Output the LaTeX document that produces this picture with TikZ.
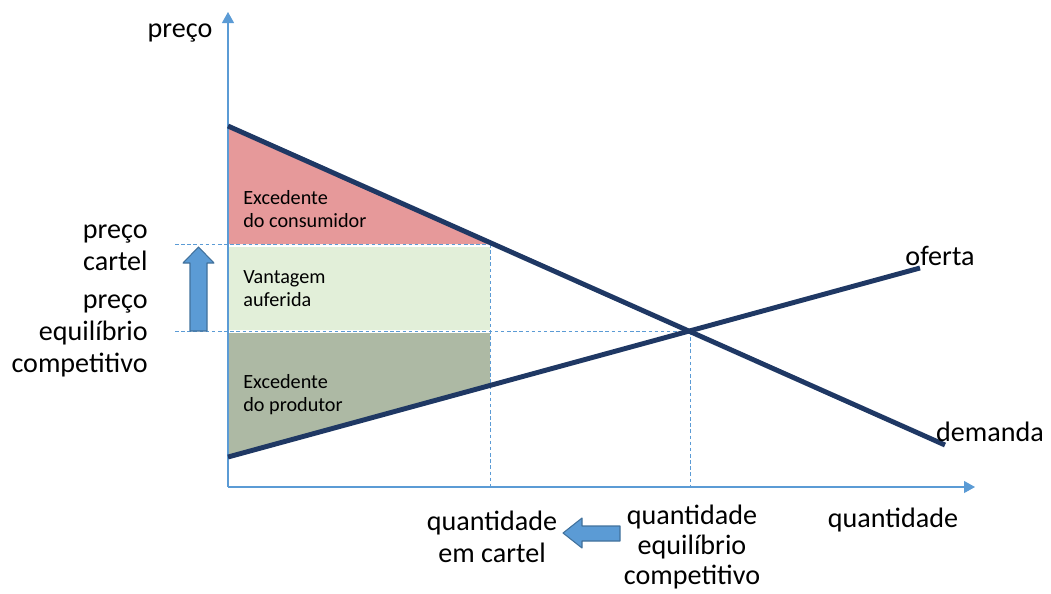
\documentclass[tikz,border=0pt]{standalone}
\usepackage{fontspec}
\setmainfont{Carlito}
\usepackage{xcolor}
\usepackage{tikz}
\usetikzlibrary{arrows.meta,positioning,calc}
\definecolor{axisblue}{HTML}{5B9BD5}
\definecolor{arrowedge}{HTML}{41719C}
\definecolor{curvenavy}{HTML}{1F3864}
\definecolor{consred}{HTML}{E6999A}
\definecolor{gainsgreen}{HTML}{E2EFD9}
\definecolor{prodgray}{HTML}{ADB9A4}
\tikzset{
    every picture/.style={line join=round},
    axisline/.style={draw=axisblue,line width=0.6pt,
      -{Triangle[length=2.2mm,width=2.4mm]}},
    guideline/.style={draw=axisblue,line width=0.5pt,dash pattern=on 2pt off 1.5pt},
    curveline/.style={draw=curvenavy,line width=2.8pt},
    blockarrow/.style={fill=axisblue,draw=arrowedge,line width=0.6pt},
    biglabel/.style={font=\fontsize{16}{18}\selectfont,inner sep=0pt,align=center},
    arealabel/.style={font=\fontsize{11.5}{13}\selectfont,inner sep=0pt,align=left,anchor=west}
}
\begin{document}
\begin{tikzpicture}[x=0.02cm,y=-0.02cm]
  \useasboundingbox (0,0) rectangle (1051,593);
  % reference points
  \coordinate (O) at (228,487);
  \coordinate (ytop) at (228,12);
  \coordinate (xend) at (975,487);
  \coordinate (d0) at (228,126);
  \coordinate (d1) at (945,445);
  \coordinate (s0) at (228,457);
  \coordinate (s1) at (920,268);
  \coordinate (cartel) at (490,244);
  \coordinate (sup) at (490,385);
  \coordinate (eq) at (690,331);
  \coordinate (pc) at (175,244);
  \coordinate (pe) at (175,331);

  % shaded areas
  \fill[consred] (d0) -- (cartel) -- (228,244) -- cycle;
  \fill[gainsgreen] (228,247) rectangle (490,330);
  \fill[prodgray] (228,333) -- (490,333) -- (sup) -- (s0) -- cycle;

  % guides
  \draw[guideline] (pc) -- (cartel);
  \draw[guideline] (pe) -- (eq);
  \draw[guideline] (cartel) -- (cartel |- O);
  \draw[guideline] (eq) -- (eq |- O);

  % axes
  \draw[axisline] (O) -- (ytop);
  \draw[axisline] (O) -- (xend);

  % curves
  \draw[curveline] (d0) -- (d1);
  \draw[curveline] (s0) -- (s1);

  % block arrows
  \draw[blockarrow] (190,331) -- (190,263) -- (183,263) -- (198.5,247)
    -- (214,263) -- (207,263) -- (207,331) -- cycle;
  \draw[blockarrow] (620,526) -- (582,526) -- (582,518) -- (563,533)
    -- (582,548) -- (582,541) -- (620,541) -- cycle;

  % labels
  \node[biglabel] (ylab) at (180,33) {preço};
  \node[biglabel,align=right,anchor=east] (plcartel) at (148,248) {preço\\cartel};
  \node[biglabel,align=right,anchor=east] (plcomp) at (148,336) {preço\\equilíbrio\\competitivo};
  \node[biglabel] (oferta) at (940,256) {oferta};
  \node[biglabel] (demanda) at (990,432) {demanda};
  \node[biglabel] (xlab) at (893,520) {quantidade};
  \node[biglabel] (qcartel) at (492,537) {quantidade\\em cartel};
  \node[biglabel,font=\fontsize{16}{17}\selectfont] (qcomp) at (692,547) {quantidade\\equilíbrio\\competitivo};

  \node[arealabel] (consumidor) at (243,209) {Excedente\\do consumidor};
  \node[arealabel] (vantagem) at (243,289) {Vantagem\\auferida};
  \node[arealabel] (produtor) at (243,395) {Excedente\\do produtor};
\end{tikzpicture}
\end{document}
